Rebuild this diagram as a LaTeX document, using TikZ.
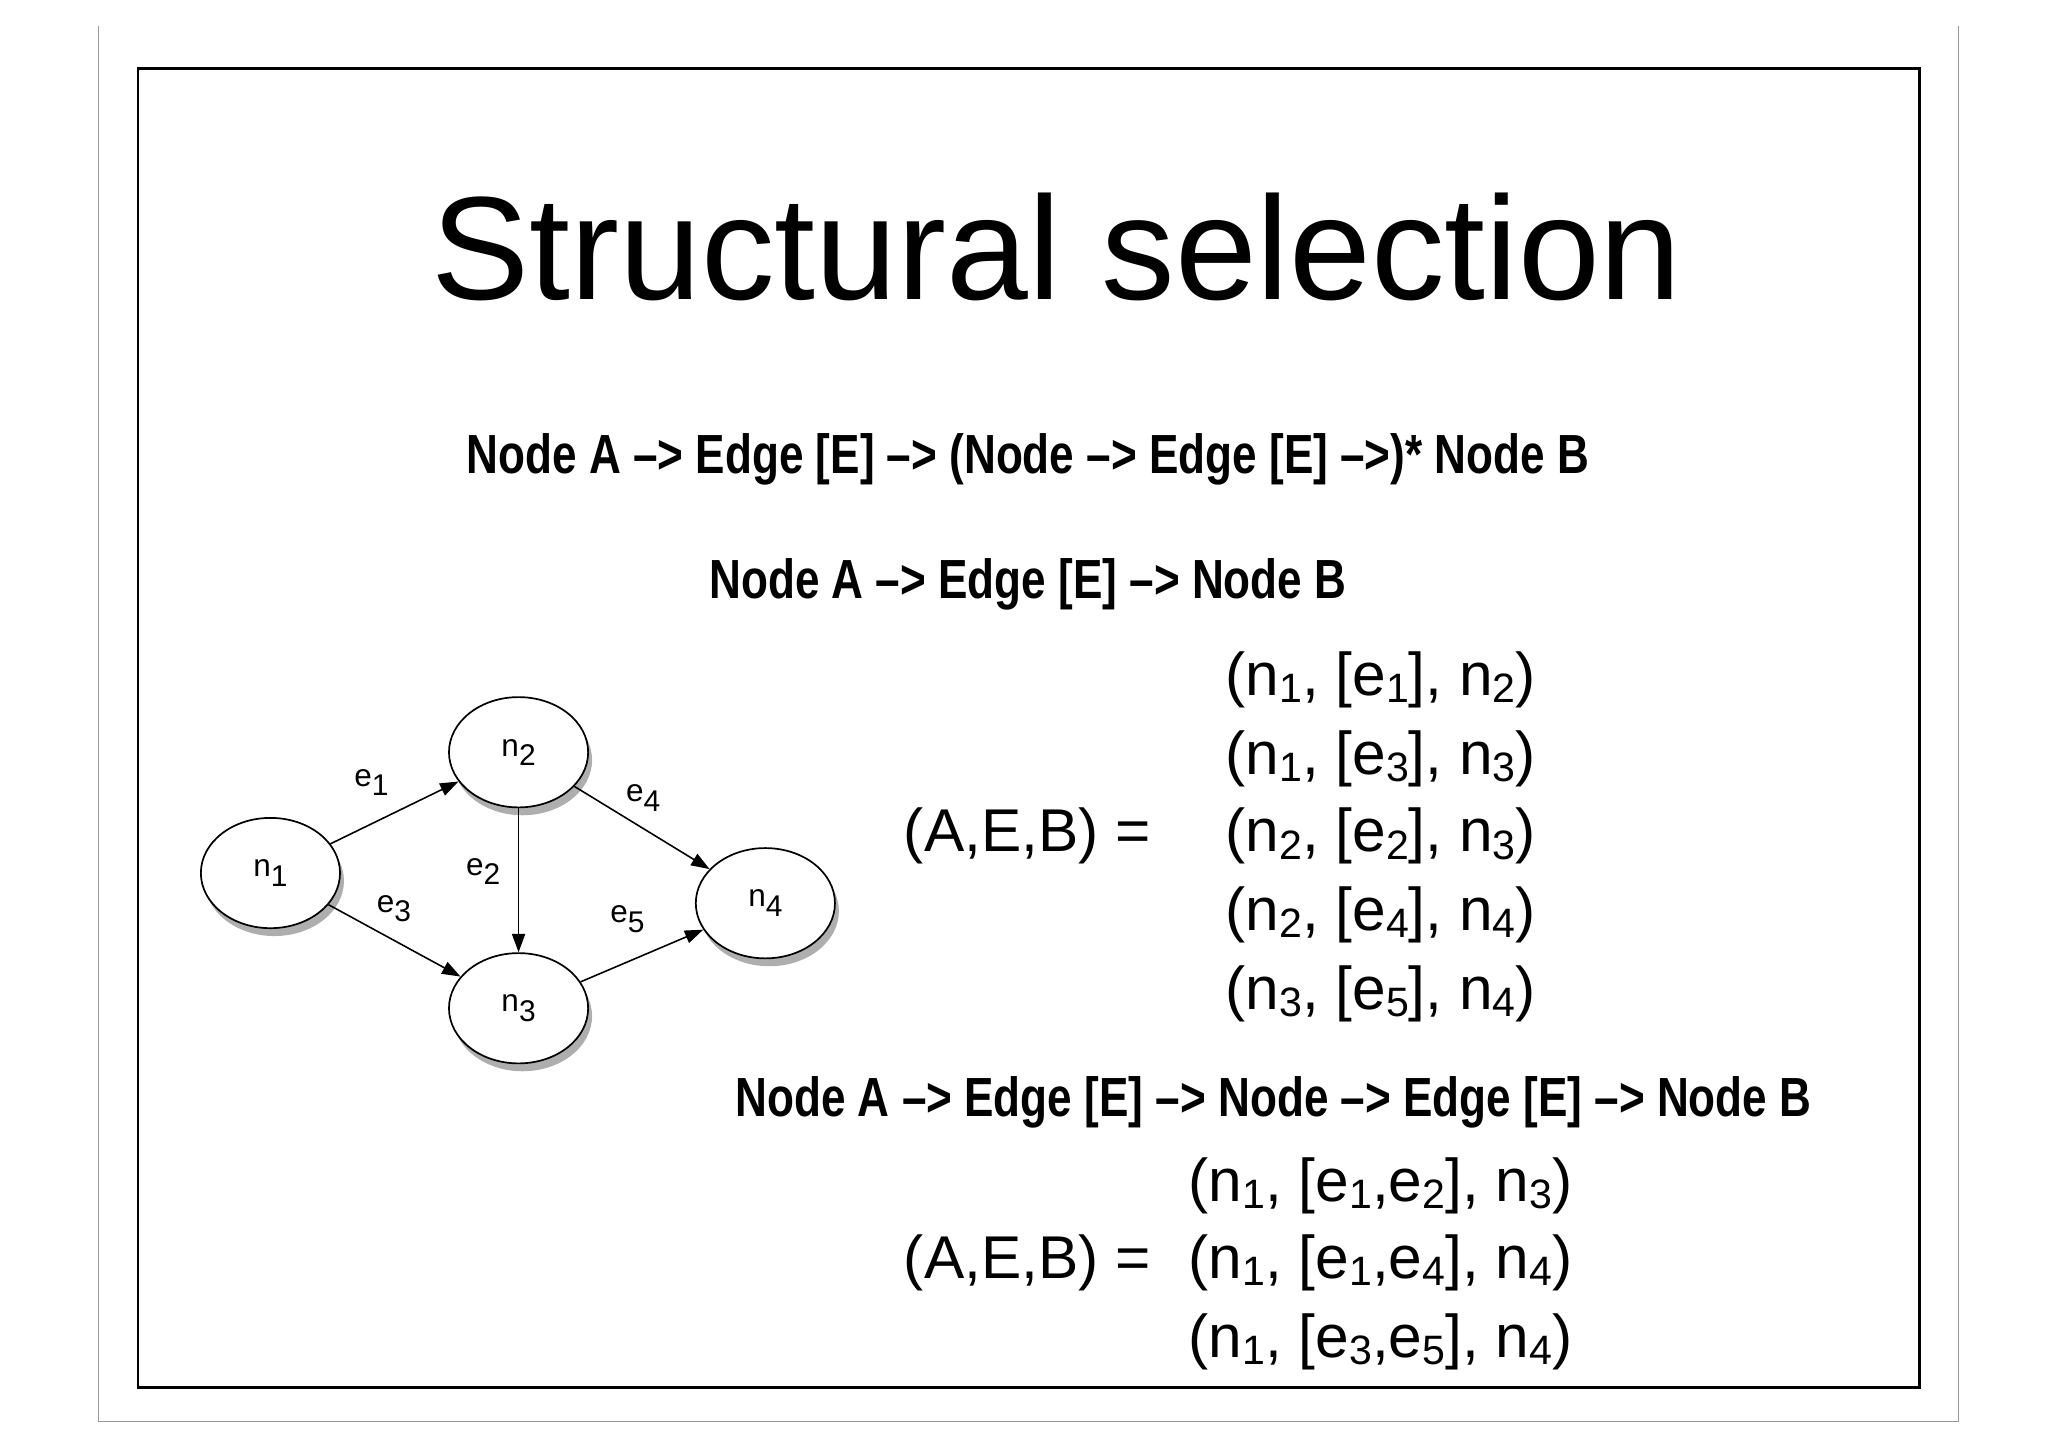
\documentclass[tikz,border=0pt]{standalone}
\usepackage{fontspec}
\setmainfont{Liberation Sans}
\usetikzlibrary{shadows,arrows.meta,shapes.geometric}
\newcommand{\tsb}[1]{\raisebox{-0.12em}{\scalebox{0.68}{#1}}}
\newcommand{\gs}[1]{\raisebox{-0.3em}{\scalebox{0.95}{#1}}}
\begin{document}
\begin{tikzpicture}[x=1pt,y=-1pt,
  gnode/.style={draw,line width=1.3pt,ellipse,minimum width=106pt,minimum height=84pt,fill=white,
    drop shadow={shadow xshift=3pt,shadow yshift=-6pt,opacity=0.45,fill=black!70}, font=\fontsize{24}{24}\selectfont},
  garrow/.style={line width=1.2pt,-{Triangle[length=14pt,width=10pt]}},
  glabel/.style={font=\fontsize{24}{24}\selectfont},
  bold/.style={font=\fontsize{42}{42}\selectfont\bfseries,xscale=0.8},
  tup/.style={font=\fontsize{46}{46}\selectfont,anchor=west}]
\useasboundingbox (0,0) rectangle (1560,1102);
\fill[white] (0,0) rectangle (1560,1102);
\draw[black!40,line width=0.8pt] (75,20) -- (75,1083) -- (1492,1083) -- (1492,20);
\draw[line width=2pt] (105,52) rectangle (1462,1057);
\node[font=\fontsize{112}{112}\selectfont] (title) at (805,188) {Structural selection};
\node[bold] (l1) at (783,350) {Node A –> Edge [E] –> (Node –> Edge [E] –>)* Node B};
\node[bold] (l2) at (783,445) {Node A –> Edge [E] –> Node B};
\node[gnode] (n1) at (206,665) {n\gs{1}};
\node[gnode] (n2) at (395,573) {n\gs{2}};
\node[gnode] (n3) at (395,768) {n\gs{3}};
\node[gnode] (n4) at (583,688) {n\gs{4}};
\draw[garrow] (n1) -- (n2);
\draw[garrow] (n2) -- (n3);
\draw[garrow] (n1) -- (n3);
\draw[garrow] (n2) -- (n4);
\draw[garrow] (n3) -- (n4);
\node[glabel] (e1) at (283,596) {e\gs{1}};
\node[glabel] (e2) at (368,664) {e\gs{2}};
\node[glabel] (e3) at (300,692) {e\gs{3}};
\node[glabel] (e4) at (490,608) {e\gs{4}};
\node[glabel] (e5) at (478,700) {e\gs{5}};
\node[tup,anchor=east] (aeb1) at (880,637) {(A,E,B) =};
\node[tup] (t1) at (930,518) {(n\tsb{1}, [e\tsb{1}], n\tsb{2})};
\node[tup] (t2) at (930,578) {(n\tsb{1}, [e\tsb{3}], n\tsb{3})};
\node[tup] (t3) at (930,637) {(n\tsb{2}, [e\tsb{2}], n\tsb{3})};
\node[tup] (t4) at (930,697) {(n\tsb{2}, [e\tsb{4}], n\tsb{4})};
\node[tup] (t5) at (930,757) {(n\tsb{3}, [e\tsb{5}], n\tsb{4})};
\node[bold] (l3) at (970,840) {Node A –> Edge [E] –> Node –> Edge [E] –> Node B};
\node[tup,anchor=east] (aeb2) at (880,962) {(A,E,B) =};
\node[tup] (u1) at (902,903) {(n\tsb{1}, [e\tsb{1},e\tsb{2}], n\tsb{3})};
\node[tup] (u2) at (902,962) {(n\tsb{1}, [e\tsb{1},e\tsb{4}], n\tsb{4})};
\node[tup] (u3) at (902,1022) {(n\tsb{1}, [e\tsb{3},e\tsb{5}], n\tsb{4})};
\end{tikzpicture}
\end{document}
